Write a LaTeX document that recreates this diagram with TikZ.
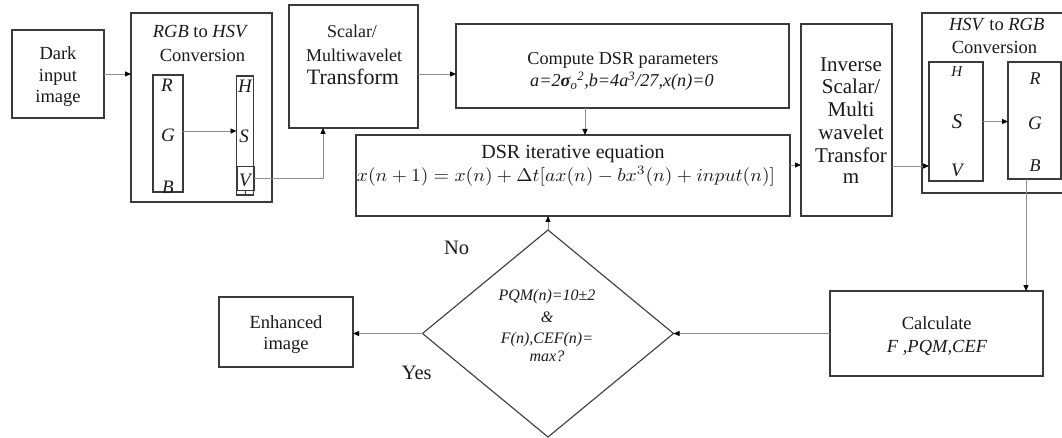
\documentclass[tikz,border=0pt]{standalone}
\usepackage{fontspec}
\usepackage{graphicx}
\setmainfont{Liberation Serif}
\usetikzlibrary{arrows.meta,shapes.geometric}
\definecolor{boxline}{HTML}{3A3A3A}
\definecolor{wirecol}{HTML}{8E8E8E}
\definecolor{inkcol}{HTML}{1A1A1A}
\newcommand\fsz[1]{\fontsize{#1}{#1}\selectfont}

\begin{document}
\begin{tikzpicture}[x=1pt,y=-1pt,
  box/.style={draw=boxline,line width=1.1pt,inner sep=0pt,outer sep=0pt},
  wire/.style={draw=wirecol,line width=0.9pt},
  arr/.style={wire,-{Triangle[length=6pt,width=5pt,color=black]}},
  t/.style={inner sep=0pt,anchor=base,text=inkcol},
  rm/.style={t,font=\fsz{#1}},
  it/.style={t,font=\fsz{#1}\itshape}]
\useasboundingbox (0,0) rectangle (1062,438);

% ---- blocks ----
\node[box,minimum width=92pt,minimum height=88pt] (dark) at (58,74) {};
\node[box,minimum width=141pt,minimum height=189pt] (rgb2hsv) at (201.5,107.5) {};
\node[box,minimum width=30pt,minimum height=117pt] (rgbcol) at (168,133.5) {};
\node[box,minimum width=17pt,minimum height=119pt] (hsvcol) at (245,135.5) {};
\node[box,minimum width=17pt,minimum height=24pt] (vcell) at (245.5,178.5) {};
\node[box,minimum width=129pt,minimum height=123pt] (scalar) at (353.5,66.5) {};
\node[box,minimum width=333pt,minimum height=84pt] (compute) at (622.5,66) {};
\node[box,minimum width=434pt,minimum height=81pt] (dsr) at (573,175.5) {};
\node[box,minimum width=91pt,minimum height=192pt] (inverse) at (846.5,120) {};
\node[box,minimum width=150pt,minimum height=180pt] (hsv2rgb) at (997,103) {};
\node[box,minimum width=54pt,minimum height=119pt] (hsvcolB) at (956,121.5) {};
\node[box,minimum width=53pt,minimum height=117pt] (rgbcolB) at (1034.5,120.5) {};
\node[box,minimum width=213pt,minimum height=85pt] (calc) at (936.5,333.5) {};
\node[box,diamond,minimum width=251pt,minimum height=207pt] (check) at (548,333.5) {};
\node[box,minimum width=134pt,minimum height=70pt] (enh) at (286,332) {};
\draw[boxline,line width=1.1pt] (vcell.south) -- (vcell.south |- hsvcol.south);

% ---- texts ----
\node[rm=18.5] (dk1) at (58,60) {Dark};
\node[rm=18.5] (dk2) at (58,82) {input};
\node[rm=18.5] (dk3) at (58,103) {image};

\node[rm=18.5] (cv1) at (200.5,37.7) {\textit{RGB} to \textit{HSV}};
\node[rm=18.5] (cv2) at (202.5,61.7) {Conversion};
\node[it=19] (lR) at (167,91.7) {R};
\node[it=19] (lG) at (168,141.7) {G};
\node[it=19] (lB) at (168,194) {B};
\node[it=19] (lH) at (245,92.7) {H};
\node[it=19] (lS) at (244,143) {S};
\node[it=19] (lV) at (245,187) {V};

\node[rm=18] (sc1) at (352,38) {Scalar/};
\node[rm=18] (sc2) at (354,61.5) {Multiwavelet};
\node[rm=22] (sc3) at (353,85) {Transform};

\node[rm=18.2] (cp1) at (623,65) {Compute DSR parameters};
\node[it=18.2] (cp2) at (622,86.5) {a=2\textbf{σ}\textsubscript{o}\textsuperscript{2},b=4a\textsuperscript{3}/27,x(n)=0};

\node[rm=20] (ds1) at (573,158.5) {DSR iterative equation};
\node[t] (ds2) at (566,181.5) {\resizebox{418pt}{15pt}{$x(n+1)=x(n)+\Delta t[ax(n)-bx^{3}(n)+input(n)]$}};

\node[rm=21] (iv1) at (851,71.7) {Inverse};
\node[rm=21] (iv2) at (851,94) {Scalar/};
\node[rm=21] (iv3) at (851,116.7) {Multi};
\node[rm=21] (iv4) at (851,140) {wavelet};
\node[rm=21] (iv5) at (851,162.7) {Transfor};
\node[rm=21] (iv6) at (851,183.3) {m};

\node[rm=18.5] (hc1) at (996.7,30.7) {\textit{HSV} to \textit{RGB}};
\node[rm=18.5] (hc2) at (994.5,53.3) {Conversion};
\node[it=15] (mH) at (956.7,76.7) {H};
\node[it=21] (mS) at (957,128.3) {S};
\node[it=19] (mV) at (957,176.7) {V};
\node[it=18] (mR) at (1035,85) {R};
\node[it=19] (mG) at (1035,130) {G};
\node[it=18] (mB) at (1035,171.7) {B};

\node[rm=18.5] (ca1) at (936.7,329.3) {Calculate};
\node[it=18.5] (ca2) at (937,352) {F ,PQM,CEF};

\node[it=16] (q1) at (547,300.7) {PQM(n)=10±2};
\node[it=16] (q2) at (547,322.7) {\&};
\node[it=16] (q3) at (547,343) {F(n),CEF(n)=};
\node[it=16] (q4) at (547,361.7) {max?};

\node[rm=18.5] (en1) at (286,328.3) {Enhanced};
\node[rm=18.5] (en2) at (286,349) {image};

\node[rm=20.5] (no) at (456.7,254.3) {No};
\node[rm=20.5] (yes) at (416.7,379.3) {Yes};

% ---- connectors ----
\draw[arr] (dark.east) -- (dark.east -| rgb2hsv.west);
\draw[arr] ([yshift=2.5pt]rgbcol.east) -- ([yshift=2.5pt]rgbcol.east -| hsvcol.west);
\draw[arr] (vcell.east) -| ([xshift=-30.5pt]scalar.south);
\draw[arr] (scalar.east |- dark.east) -- (compute.west |- dark.east);
\draw[arr] ([xshift=-37.5pt]compute.south) -- ([xshift=-37.5pt]compute.south |- dsr.north);
\draw[arr] ([yshift=10.5pt]dsr.east) -- ([yshift=10.5pt]dsr.east -| inverse.west);
\draw[arr] ([yshift=-46pt]inverse.east) -- ([yshift=-46pt]inverse.east -| hsvcolB.west);
\draw[arr] (hsvcolB.east) -- (hsvcolB.east -| rgbcolB.west);
\draw[arr] ([xshift=-8.5pt]rgbcolB.south) -- ([xshift=-8.5pt]rgbcolB.south |- calc.north);
\draw[arr] (calc.west) -- (check.east);
\draw[arr] (check.north) -- (check.north |- dsr.south);
\draw[arr] (check.west) -- (check.west -| enh.east);
\end{tikzpicture}
\end{document}
